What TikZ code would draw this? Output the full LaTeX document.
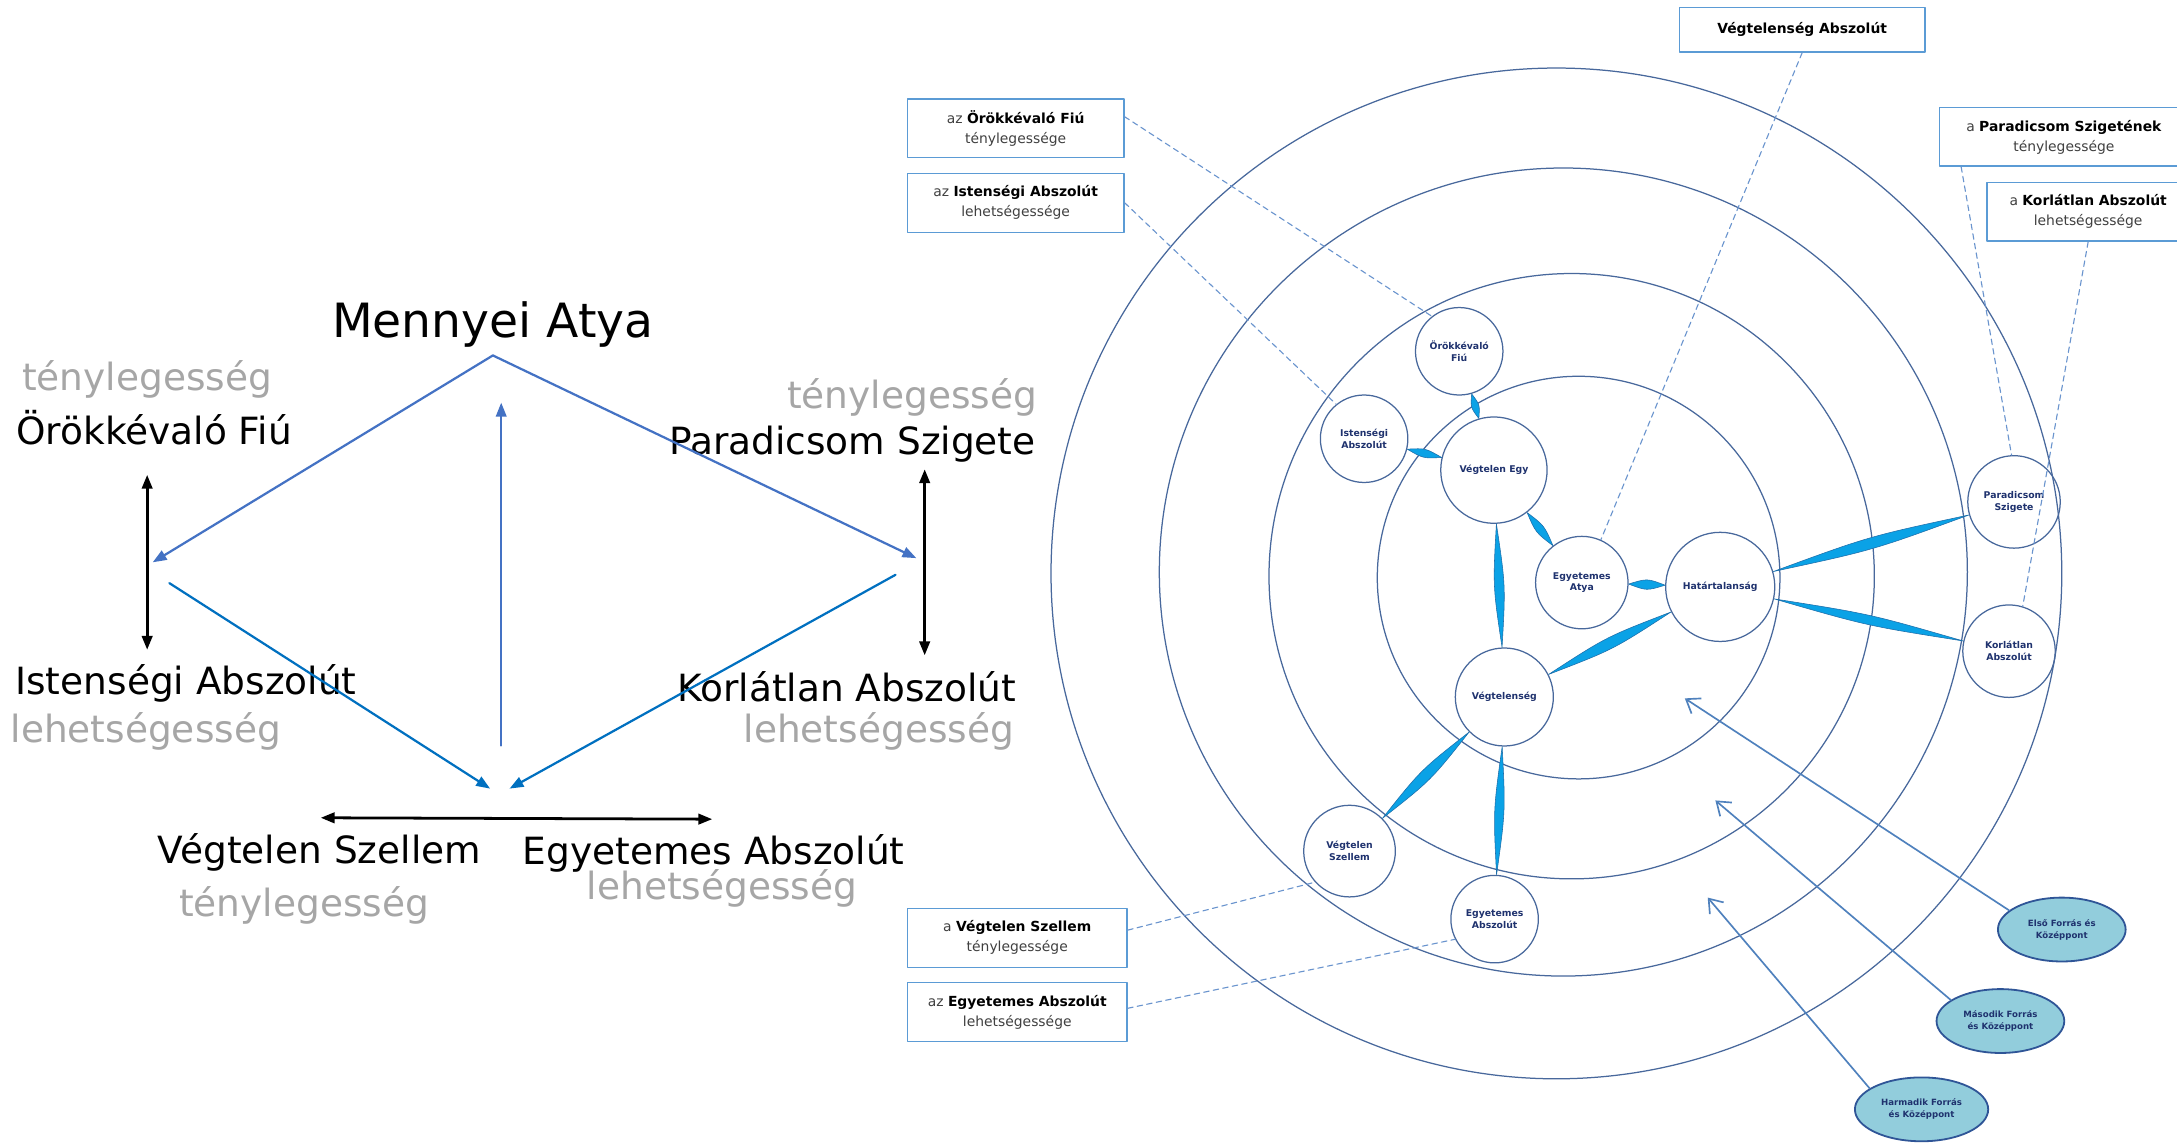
\documentclass[tikz,border=0pt]{standalone}
\usepackage{fontspec}
\setmainfont{DejaVu Sans}
\usepackage{tikz}
\usetikzlibrary{calc}
\usetikzlibrary{arrows.meta}
\usetikzlibrary{shapes.geometric}
\definecolor{uuxscu}{rgb}{0.26666666666666666,0.4470588235294118,0.7686274509803922}
\definecolor{qqxqcq}{rgb}{0.,0.4392156862745098,0.7529411764705882}
\definecolor{awawaw}{rgb}{0.6509803921568628,0.6509803921568628,0.6509803921568628}
\definecolor{vbzbdv}{rgb}{0.3568627450980392,0.6078431372549019,0.8352941176470589}
\definecolor{wazuce}{rgb}{0.41568627450980394,0.5803921568627451,0.807843137254902}
\definecolor{uywyzc}{rgb}{0.2823529411764706,0.40784313725490196,0.611764705882353}
\definecolor{rftswe}{rgb}{0.12156862745098039,0.19607843137254902,0.43137254901960786}
\definecolor{qaasew}{rgb}{0.0392156862745098,0.6352941176470588,0.9019607843137255}
\definecolor{reweaa}{rgb}{0.11764705882352941,0.43137254901960786,0.6666666666666666}
\definecolor{zscddc}{rgb}{0.5725490196078431,0.803921568627451,0.8627450980392157}
\definecolor{sfvvzx}{rgb}{0.1843137254901961,0.3333333333333333,0.592156862745098}
\definecolor{ufyrbd}{rgb}{0.30980392156862746,0.5058823529411764,0.7411764705882353}
\definecolor{uququq}{rgb}{0.25098039215686274,0.25098039215686274,0.25098039215686274}
\tikzstyle{every node}=[font=\fontsize{27}{32}\selectfont]
\tikzstyle{faint}=[text=awawaw]
\tikzstyle{ring}=[line width=0.9pt,color=uywyzc]
\tikzstyle{orb}=[circle,draw=uywyzc,line width=0.9pt,inner sep=0pt,align=center,text=rftswe,font=\fontsize{6.7}{8.4}\selectfont\bfseries]
\tikzstyle{lens}=[fill=qaasew,draw=reweaa,line width=0.4pt]
\tikzstyle{tag}=[draw=vbzbdv,line width=1pt,fill=white,inner sep=0pt,align=center,text=uququq,font=\fontsize{10}{14.4}\selectfont]
\tikzstyle{hint}=[dash pattern=on 4pt off 3pt,line width=0.8pt,color=wazuce]
\tikzstyle{source}=[ellipse,draw=sfvvzx,line width=1.3pt,fill=zscddc,inner sep=0pt,align=center,text=rftswe,font=\fontsize{6.2}{8.6}\selectfont\bfseries,minimum width=92pt,minimum height=46pt]
\tikzstyle{pointer}=[line width=1.2pt,color=ufyrbd,-{Straight Barb[length=9pt,width=13pt]}]
\newcommand{\lensbond}[3]{%
  \path (#1) -- coordinate[pos=0] (ls) coordinate[pos=1] (le) (#2);
  \filldraw[lens] (ls) .. controls ($(ls)!0.5!(le)!#3pt!90:(le)$) .. (le) .. controls ($(ls)!0.5!(le)!#3pt!-90:(le)$) .. (ls) -- cycle;}

\begin{document}
\begin{tikzpicture}[line cap=round,line join=round,>={Triangle[length=10pt,width=7.5pt]},x=1pt,y=-1pt]
\useasboundingbox (0,0) rectangle (1568,823);
\clip (0,0) rectangle (1568,823);
\fill[white] (0,0) rectangle (1568,823);
\node [anchor=base,font=\fontsize{34}{40}\selectfont] (mennyei) at (355,243) {Mennyei Atya};
\node [anchor=base,faint] (fiuteny) at (106,281) {ténylegesség};
\node [anchor=base] (fiu0) at (111,320) {Örökkévaló Fiú};
\node [anchor=base,faint] (parteny) at (657,294) {ténylegesség};
\node [anchor=base] (par0) at (614,327) {Paradicsom Szigete};
\node [anchor=base] (ist0) at (134,500) {Istenségi Abszolút};
\node [anchor=base,faint] (istlehet) at (105,535) {lehetségesség};
\node [anchor=base] (kor0) at (610,505) {Korlátlan Abszolút};
\node [anchor=base,faint] (korlehet) at (633,535) {lehetségesség};
\node [anchor=base] (szel0) at (230,622) {Végtelen Szellem};
\node [anchor=base,faint] (szelteny) at (219,660) {ténylegesség};
\node [anchor=base] (eabs0) at (514,623) {Egyetemes Abszolút};
\node [anchor=base,faint] (eabslehet) at (520,648) {lehetségesség};
\coordinate (apex) at (355,256);
\coordinate (fiutip) at (110,405);
\coordinate (partip) at (660,402);
\coordinate (midlow) at (361,537);
\coordinate (midtop) at (361,290);
\coordinate (istend) at (122,420);
\coordinate (szeltip) at (353,568);
\coordinate (korend) at (645,414);
\coordinate (eabstip) at (367,568);
\coordinate (lefttop) at (106,342);
\coordinate (leftbot) at (106,468);
\coordinate (righttop) at (666,338);
\coordinate (rightbot) at (666,472);
\coordinate (pairl) at (231,589);
\coordinate (pairr) at (513,590);
\draw [->,line width=1.6pt,color=uuxscu] (apex) -- (fiutip);
\draw [->,line width=1.6pt,color=uuxscu] (apex) -- (partip);
\draw [->,line width=1.6pt,color=uuxscu] (midlow) -- (midtop);
\draw [->,line width=1.6pt,color=qqxqcq] (istend) -- (szeltip);
\draw [->,line width=1.6pt,color=qqxqcq] (korend) -- (eabstip);
\draw [<->,line width=2pt] (lefttop) -- (leftbot);
\draw [<->,line width=2pt] (righttop) -- (rightbot);
\draw [<->,line width=2pt] (pairl) -- (pairr);
\foreach \cx/\cy/\r in {1137/416/145,1132/415/218,1126/412/291,1121/413/364}
  \draw[ring] (\cx,\cy) circle (\r pt);
\node[tag,minimum width=177pt,minimum height=32pt] (vabox) at (1298,21.5) {\color{black}\bfseries Végtelenség Abszolút};
\node[tag,minimum width=156pt,minimum height=42pt] (fiubox) at (731.5,92.3) {az {\color{black}\bfseries Örökkévaló Fiú}\\ténylegessége};
\node[tag,minimum width=156pt,minimum height=42.5pt] (istbox) at (731.5,146) {az {\color{black}\bfseries Istenségi Abszolút}\\lehetségessége};
\node[tag,minimum width=179pt,minimum height=42pt] (parbox) at (1486.5,98.6) {a {\color{black}\bfseries Paradicsom Szigetének}\\ténylegessége};
\node[tag,minimum width=146pt,minimum height=42.3pt] (korbox) at (1504,152.5) {a {\color{black}\bfseries Korlátlan Abszolút}\\lehetségessége};
\node[tag,minimum width=158pt,minimum height=42.5pt] (szbox) at (732.7,675.5) {a {\color{black}\bfseries Végtelen Szellem}\\ténylegessége};
\node[tag,minimum width=158pt,minimum height=42.5pt] (eabox) at (732.7,729) {az {\color{black}\bfseries Egyetemes Abszolút}\\lehetségessége};
\node[orb,minimum size=63pt] (fiu) at (1051,253) {Örökkévaló\\Fiú};
\node[orb,minimum size=63pt] (ist) at (982.5,316) {Istenségi\\Abszolút};
\node[orb,minimum size=76.6pt] (vegy) at (1076,338.6) {Végtelen Egy};
\node[orb,minimum size=66.6pt] (atya) at (1139.3,419.6) {Egyetemes\\Atya};
\node[orb,minimum size=78.6pt] (hat) at (1239,422.7) {Határtalanság};
\node[orb,minimum size=70.6pt] (vseg) at (1083.5,502) {Végtelenség};
\node[orb,minimum size=66pt] (szel) at (972,613) {Végtelen\\Szellem};
\node[orb,minimum size=63pt] (eabs) at (1076.5,662) {Egyetemes\\Abszolút};
\node[orb,minimum size=66.6pt] (par) at (1450.6,361.5) {Paradicsom\\Szigete};
\node[orb,minimum size=66.6pt] (kor) at (1447,469) {Korlátlan\\Abszolút};
\draw[hint] (fiubox.6) -- (fiu.128);
\draw[hint] (istbox.east) -- (ist.129);
\draw[hint] (vabox.south) -- (atya.66);
\draw[hint] ($(parbox.south west)+(16,0)$) -- (par.93);
\draw[hint] (korbox.south) -- (kor.73);
\draw[hint] (szbox.4) -- (szel.222);
\draw[hint] (eabox.2) -- (eabs.207);
\lensbond{fiu}{vegy}{3.5}
\lensbond{ist}{vegy}{3.8}
\lensbond{vegy}{atya}{4}
\lensbond{vegy}{vseg}{4.6}
\lensbond{atya}{hat}{4.5}
\lensbond{hat}{vseg}{5.2}
\lensbond{hat}{par}{5.2}
\lensbond{hat}{kor}{4.4}
\lensbond{vseg}{szel}{5.2}
\lensbond{vseg}{eabs}{4.4}
\coordinate (elsotip) at (1213.5,503);
\coordinate (masodiktip) at (1235.5,576.5);
\coordinate (harmadiktip) at (1230,646.5);
\node[source] (elso) at (1485,669.5) {Első Forrás és\\Középpont};
\node[source] (masodik) at (1440.8,735.4) {Második Forrás\\és Középpont};
\node[source,minimum width=96pt] (harmadik) at (1384,799) {Harmadik Forrás\\és Középpont};
\draw[pointer] (elso.160) -- (elsotip);
\draw[pointer] (masodik.157) -- (masodiktip);
\draw[pointer] (harmadik.158) -- (harmadiktip);
\end{tikzpicture}
\end{document}
